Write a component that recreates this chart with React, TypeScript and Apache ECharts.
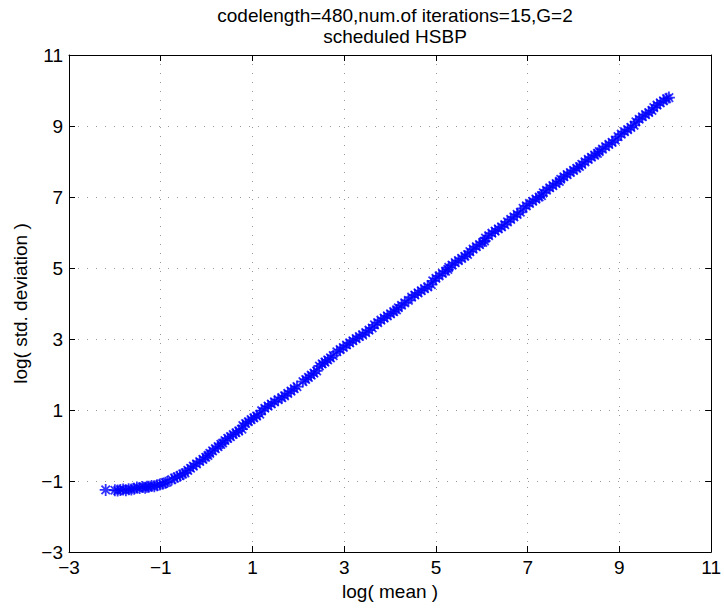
import React, { useEffect, useRef } from "react";
import * as echarts from "echarts";

// log( mean ) values of the plotted points
const meanLog: number[] = [
  -2.2,
  -2.0, -1.94, -1.88, -1.82, -1.76, -1.7, -1.64,
  -1.58, -1.52, -1.46, -1.4, -1.34, -1.3,
  -1.26, -1.2, -1.14, -1.08, -1.02, -0.96, -0.9, -0.86,
  -0.76, -0.7, -0.64, -0.58, -0.52, -0.47,
  -0.41, -0.35, -0.29, -0.22, -0.15, -0.08, -0.02, 0.03,
  0.07, 0.13, 0.19, 0.25, 0.31, 0.35,
  0.4, 0.46, 0.52, 0.58, 0.64, 0.7, 0.77,
  0.79, 0.85, 0.91, 0.97, 1.03, 1.09, 1.16,
  1.2, 1.27, 1.34, 1.41, 1.48, 1.56, 1.64,
  1.7, 1.77, 1.84, 1.91, 1.97,
  2.1, 2.16, 2.22, 2.28, 2.34, 2.4,
  2.46, 2.52, 2.58, 2.64, 2.7, 2.76,
  2.84, 2.91, 2.98, 3.05, 3.12, 3.19, 3.26, 3.33,
  3.4, 3.47, 3.54, 3.61,
  3.66, 3.73, 3.8, 3.87, 3.94, 4.01, 4.08, 4.14,
  4.18, 4.25, 4.32, 4.4,
  4.47, 4.54, 4.61, 4.68, 4.75, 4.82, 4.9,
  4.93, 5.0, 5.07, 5.14, 5.21, 5.26,
  5.28, 5.35, 5.42, 5.49, 5.56, 5.63, 5.69,
  5.74, 5.81, 5.88, 5.95, 6.02, 6.06,
  6.08, 6.15, 6.22, 6.29, 6.36, 6.43, 6.5,
  6.56, 6.63, 6.7, 6.77, 6.84,
  6.9, 6.97, 7.04, 7.11, 7.18, 7.25, 7.3,
  7.34, 7.41, 7.48, 7.55, 7.62, 7.69,
  7.72, 7.79, 7.86, 7.93, 8.0, 8.07, 8.13,
  8.18, 8.25, 8.32, 8.39, 8.46, 8.52,
  8.56, 8.63, 8.7, 8.77, 8.84, 8.91,
  8.97, 9.04, 9.11, 9.18, 9.25, 9.32,
  9.36, 9.43, 9.5, 9.57, 9.64, 9.71,
  9.75, 9.82, 9.89, 9.96, 10.03, 10.08,
];

// log( std. deviation ) values of the plotted points
const stdLog: number[] = [
  -1.25,
  -1.26, -1.27, -1.25, -1.24, -1.26, -1.23, -1.24,
  -1.22, -1.18, -1.2, -1.17, -1.19, -1.16,
  -1.16, -1.14, -1.15, -1.12, -1.1, -1.08, -1.05, -1.03,
  -0.96, -0.92, -0.88, -0.85, -0.8, -0.77,
  -0.7, -0.64, -0.58, -0.52, -0.45, -0.39, -0.33, -0.28,
  -0.22, -0.15, -0.09, -0.03, 0.03, 0.07,
  0.14, 0.2, 0.25, 0.31, 0.36, 0.41, 0.46,
  0.56, 0.62, 0.67, 0.73, 0.78, 0.83, 0.88,
  0.98, 1.05, 1.11, 1.17, 1.23, 1.29, 1.35,
  1.4, 1.47, 1.53, 1.6, 1.66,
  1.8, 1.86, 1.92, 1.98, 2.04, 2.1,
  2.24, 2.3, 2.35, 2.41, 2.47, 2.53,
  2.64, 2.7, 2.76, 2.83, 2.89, 2.95, 3.01, 3.07,
  3.12, 3.18, 3.25, 3.31,
  3.4, 3.46, 3.53, 3.59, 3.65, 3.71, 3.77, 3.82,
  3.88, 3.95, 4.02, 4.09,
  4.18, 4.24, 4.3, 4.36, 4.42, 4.47, 4.53,
  4.64, 4.71, 4.78, 4.85, 4.91, 4.96,
  5.02, 5.08, 5.15, 5.21, 5.27, 5.33, 5.38,
  5.46, 5.53, 5.6, 5.66, 5.72, 5.76,
  5.84, 5.91, 5.98, 6.04, 6.1, 6.16, 6.22,
  6.3, 6.37, 6.44, 6.51, 6.57,
  6.68, 6.75, 6.82, 6.88, 6.94, 7.0, 7.04,
  7.12, 7.19, 7.26, 7.32, 7.38, 7.44,
  7.5, 7.57, 7.63, 7.69, 7.75, 7.81, 7.86,
  7.92, 7.99, 8.06, 8.12, 8.18, 8.23,
  8.28, 8.35, 8.42, 8.48, 8.54, 8.6,
  8.7, 8.77, 8.84, 8.9, 8.96, 9.02,
  9.12, 9.19, 9.26, 9.32, 9.38, 9.44,
  9.52, 9.59, 9.65, 9.71, 9.77, 9.8,
];

const xTicks: number[] = [-3, -1, 1, 3, 5, 7, 9, 11];
const yTicks: number[] = [-3, -1, 1, 3, 5, 7, 9, 11];

const titleLines: string[] = [
  "codelength=480,num.of iterations=15,G=2",
  "scheduled HSBP",
];
const xLabel = "log( mean )";
const yLabel = "log( std. deviation )";

const FONT = "'Liberation Sans', Arial, Helvetica, sans-serif";
const STAR =
  "path://M5,0L5,10M0,5L10,5M1.5,1.5L8.5,8.5M1.5,8.5L8.5,1.5";
const FS = 19;

const fmt = (v: number) => String(v).replace("-", "\u2212");

function makeAxis(
  kind: "x" | "y",
  position: string,
  ticks: number[],
  main: boolean,
  name?: string
) {
  return {
    type: "value",
    position,
    min: ticks[0],
    max: ticks[ticks.length - 1],
    name: main ? name : undefined,
    nameLocation: "middle",
    nameGap: kind === "x" ? 30 : 39,
    nameTextStyle: { color: "#000", fontSize: FS, fontFamily: FONT },
    axisLine: { show: true, onZero: false, lineStyle: { color: "#000", width: 1 } },
    axisTick: {
      show: true,
      inside: true,
      length: 6,
      customValues: ticks,
      lineStyle: { color: "#000", width: 1 },
    },
    axisLabel: {
      show: main,
      customValues: ticks,
      formatter: fmt,
      color: "#000",
      fontSize: FS,
      fontFamily: FONT,
      margin: kind === "x" ? 6 : 6,
    },
    splitLine: {
      show: main,
      lineStyle: { color: "#999", width: 1, type: [1, 8] },
    },
  };
}

export default function App() {
  const ref = useRef<HTMLDivElement>(null);

  useEffect(() => {
    if (!ref.current) return;
    const chart = echarts.init(ref.current, null, { renderer: "svg" });
    const data = meanLog.map((x, i) => [x, stdLog[i]]);
    chart.setOption({
      animation: false,
      backgroundColor: "#fff",
      title: {
        text: titleLines.join("\n"),
        left: 390,
        top: 0,
        textAlign: "center",
        textStyle: {
          color: "#000",
          fontSize: FS,
          fontWeight: "normal",
          lineHeight: 21,
          fontFamily: FONT,
        },
      },
      grid: { left: 69, right: 11.5, top: 55, bottom: 60, containLabel: false },
      xAxis: [
        makeAxis("x", "bottom", xTicks, true, xLabel),
        makeAxis("x", "top", xTicks, false),
      ],
      yAxis: [
        makeAxis("y", "left", yTicks, true, yLabel),
        makeAxis("y", "right", yTicks, false),
      ],
      series: [
        {
          type: "scatter",
          xAxisIndex: 0,
          yAxisIndex: 0,
          data,
          symbol: STAR,
          symbolSize: 12,
          itemStyle: {
            color: "rgba(0,0,0,0)",
            borderColor: "#0000ff",
            borderWidth: 1.8,
          },
        },
      ],
    });
    return () => chart.dispose();
  }, []);

  return (
    <div
      ref={ref}
      style={{
        position: "absolute",
        left: 0,
        top: 0,
        width: 724,
        height: 612,
        background: "#fff",
      }}
    />
  );
}
